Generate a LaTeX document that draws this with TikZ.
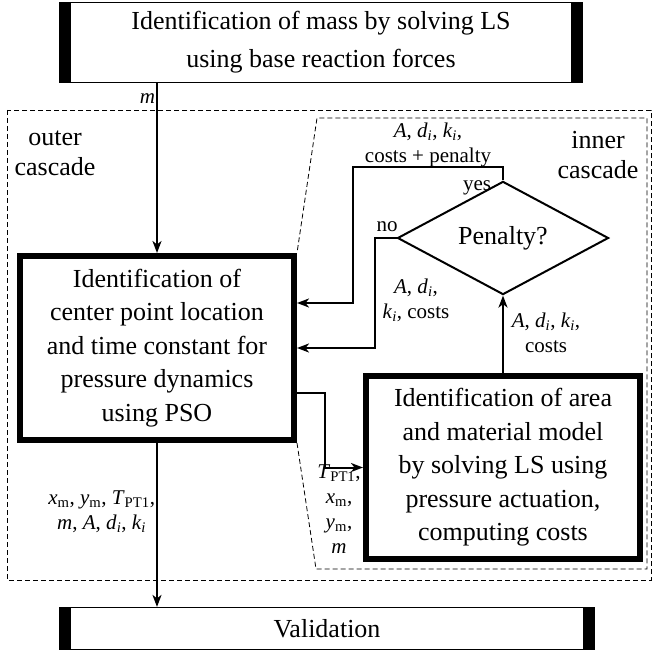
\documentclass[tikz,border=0pt]{standalone}
\usepackage{fontspec}
\setmainfont{Liberation Serif}
\usetikzlibrary{arrows.meta,shapes.geometric,positioning}
\newcommand{\sym}[1]{\textit{#1}}
\newcommand{\idx}[2]{\textit{#1}\textsubscript{\textit{#2}}}
\newcommand{\upidx}[2]{\textit{#1}\textsubscript{#2}}
\tikzset{
  barbox/.style={rectangle, draw, line width=1.2pt, inner sep=0pt, align=center, font=\fontsize{26}{38}\selectfont},
  boldbox/.style={rectangle, draw, line width=6pt, inner sep=0pt, align=center, font=\fontsize{26}{33.5}\selectfont},
  decision/.style={diamond, draw, line width=2pt, inner sep=0pt, minimum width=211pt, minimum height=87pt, font=\fontsize{26}{30}\selectfont},
  lbl/.style={draw=none, inner sep=1pt, align=center, font=\fontsize{21}{25}\selectfont},
  cascadetext/.style={draw=none, inner sep=0pt, align=center, font=\fontsize{26}{30}\selectfont},
  flow/.style={-{Stealth[length=12pt,width=9pt,inset=3.5pt]}, line width=2pt},
  cascade/.style={line width=0.8pt, dash pattern=on 5pt off 3pt}
}
\begin{document}
\begin{tikzpicture}[x=1pt, y=-1pt]
\useasboundingbox (0,0) rectangle (654,655);
%%%%%%%%%%%%%%%%%%%%%%%%%%%%%%% cascades
\draw[cascade] (7,110) rectangle (651,580);
\node[cascadetext](outerTxt) at (55,153){outer\\cascade};
\node[cascadetext](innerTxt) at (598,155){inner\\cascade};
%%%%%%%%%%%%%%%%%%%%%%%%%%%%%%% boxes
\node[barbox, minimum width=523pt, minimum height=80pt](mass) at (321,42.5){Identification of mass by solving LS\\using base reaction forces};
\fill (mass.north west) rectangle ([xshift=12pt]mass.south west);
\fill (mass.north east) rectangle ([xshift=-12pt]mass.south east);
\node[boldbox, minimum width=274pt, minimum height=184pt](pso) at (157,348){Identification of\\center point location\\and time constant for\\pressure dynamics\\using PSO};
\node[boldbox, minimum width=274pt, minimum height=183pt](area) at (503,467.5){Identification of area\\and material model\\by solving LS using\\pressure actuation,\\computing costs};
\node[decision](penalty) at (503,238){Penalty?};
\node[barbox, minimum width=535pt, minimum height=42pt](valid) at (327,628.5){Validation};
\fill (valid.north west) rectangle ([xshift=12pt]valid.south west);
\fill (valid.north east) rectangle ([xshift=-12pt]valid.south east);
%%%%%%%%%%%%%%%%%%%%%%%%%%%%%%% inner cascade border
\draw[cascade] (pso.south east) -- (316,569) -- (647,569) -- (647,118) -- (317,118) -- (pso.north east);
%%%%%%%%%%%%%%%%%%%%%%%%%%%%%%% connectors
\draw[flow] (pso.north |- mass.south) -- node[lbl, left, pos=0.09]{\sym{m}} (pso.north);
\draw[flow] (pso.south) -- node[lbl, left, pos=0.42]{\upidx{x}{m}, \upidx{y}{m}, \upidx{T}{PT1},\\\sym{m}, \sym{A}, \idx{d}{i}, \idx{k}{i}} (pso.south |- valid.north);
\draw[flow] ([yshift=-45pt]pso.east) -- ++(28,0) |- (area.west);
\node[lbl](toArea) at (339,509){\upidx{T}{PT1},\\\upidx{x}{m},\\\upidx{y}{m},\\\sym{m}};
\draw[flow] (area.north) -- (penalty.south);
\node[lbl](fromArea) at (546,333){\sym{A}, \idx{d}{i}, \idx{k}{i},\\costs};
\draw[flow] (penalty.north) -- ++(0,-13) -| ++(-150,0) |- ([yshift=45pt]pso.east);
\node[lbl](yesTxt) at (477,188){yes};
\node[lbl](yesData) at (428,145){\sym{A}, \idx{d}{i}, \idx{k}{i},\\costs + penalty};
\draw[flow] (penalty.west) -- ++(-22,0) |- (pso.east);
\node[lbl](noTxt) at (387,227){no};
\node[lbl](noData) at (416,300){\sym{A}, \idx{d}{i},\\\idx{k}{i}, costs};
\end{tikzpicture}
\end{document}
